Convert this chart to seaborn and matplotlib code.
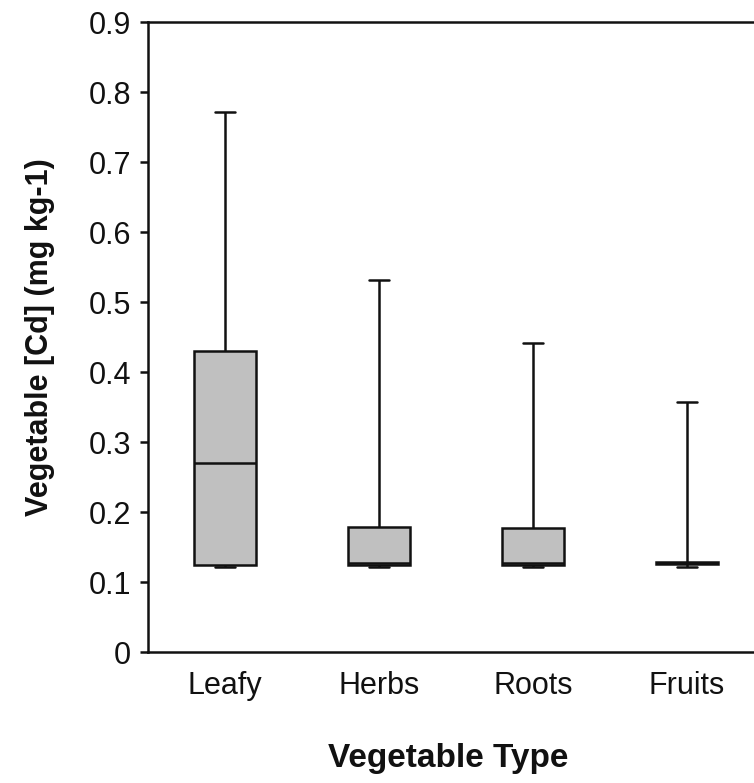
import numpy as np
import pandas as pd
import matplotlib
matplotlib.use("Agg")
import matplotlib.pyplot as plt
import seaborn as sns

# Data: [lower whisker, Q1, median, Q3, upper whisker] per vegetable type
categories = ["Leafy", "Herbs", "Roots", "Fruits"]
leafy = [0.122, 0.125, 0.270, 0.430, 0.772]
herbs = [0.122, 0.125, 0.127, 0.178, 0.531]
roots = [0.122, 0.125, 0.127, 0.177, 0.441]
fruits = [0.122, 0.1255, 0.127, 0.1285, 0.357]
y_ticks = [0, 0.1, 0.2, 0.3, 0.4, 0.5, 0.6, 0.7, 0.8, 0.9]
y_tick_labels = ["0", "0.1", "0.2", "0.3", "0.4", "0.5", "0.6", "0.7", "0.8", "0.9"]

sns.set_theme(style="white")
plt.rcParams["font.family"] = ["Liberation Sans", "DejaVu Sans"]

values = [leafy, herbs, roots, fruits]
df = pd.DataFrame({
    "type": [c for c, v in zip(categories, values) for _ in v],
    "cd": [x for v in values for x in v],
})

fig = plt.figure(figsize=(7.54, 7.83), dpi=100)
ax = fig.add_axes([148 / 754, 131 / 783, 616 / 754, 630 / 783])

sns.boxplot(
    data=df, x="type", y="cd", order=categories, ax=ax,
    color="#c0c0c0", saturation=1, width=0.4, whis=np.inf,
    linecolor="#111111", linewidth=1.8, capwidths=0.13,
)

ax.set_xlim(-0.5, 3.5)
ax.set_ylim(0, 0.9)
ax.set_yticks(y_ticks)
ax.set_yticklabels(y_tick_labels)

for s in ax.spines.values():
    s.set_visible(True)
    s.set_color("#111111")
    s.set_linewidth(1.8)

ax.tick_params(axis="y", left=True, length=6, width=1.8, direction="out",
               labelsize=22, pad=6, colors="#111111")
ax.tick_params(axis="x", bottom=False, length=0, labelsize=22, pad=14,
               colors="#111111")

ax.set_xlabel("Vegetable Type", fontsize=24, fontweight="bold", color="#111111")
ax.set_ylabel("Vegetable [Cd] (mg kg-1)", fontsize=22, fontweight="bold",
              color="#111111")
ax.xaxis.set_label_coords(0.487, -0.144)
ax.yaxis.set_label_coords(-0.151, 0.5)

fig.savefig("out.png", dpi=100, facecolor="white")
